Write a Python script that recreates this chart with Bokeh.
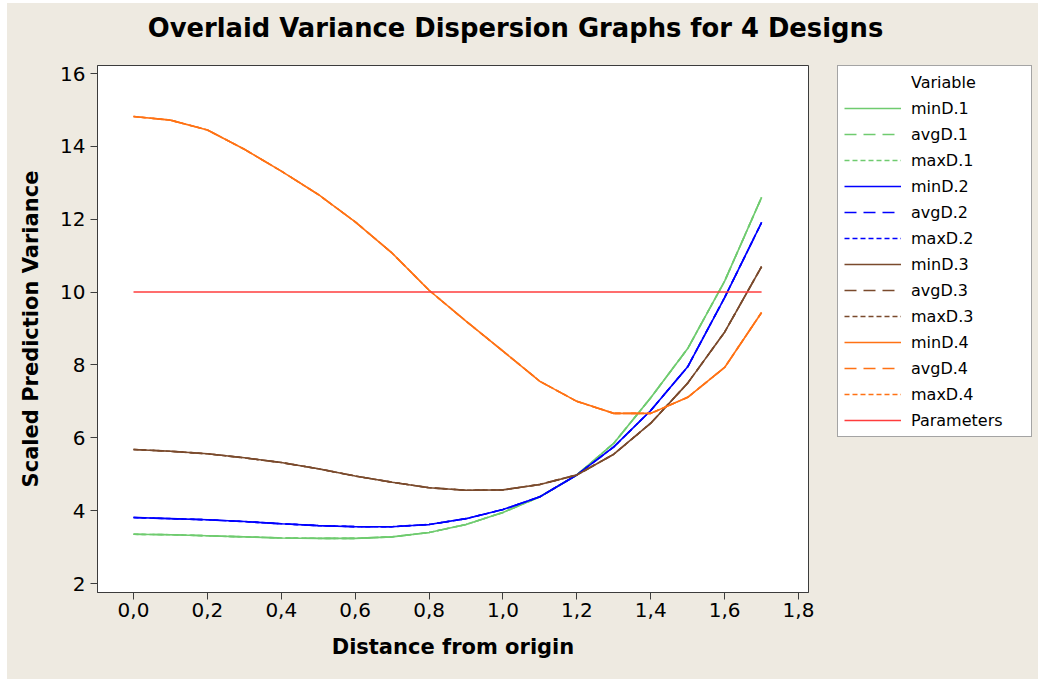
from bokeh.plotting import figure
from bokeh.models import (Legend, LegendItem, FixedTicker, CustomJSTickFormatter,
                          Range1d, Spacer, Label)
from bokeh.layouts import row, column
from bokeh.embed import file_html
from bokeh.resources import INLINE

# Distance from the design centre
distance = [0.0, 0.1, 0.2, 0.3, 0.4, 0.5, 0.6, 0.7, 0.8, 0.9,
            1.0, 1.1, 1.2, 1.3, 1.4, 1.5, 1.6, 1.7]

# Scaled prediction variance of each design (min / avg / max coincide)
design_1 = [3.35, 3.34, 3.31, 3.28, 3.25, 3.24, 3.24, 3.28, 3.40, 3.62,
            3.95, 4.38, 4.98, 5.85, 7.10, 8.45, 10.30, 12.60]
design_2 = [3.81, 3.78, 3.75, 3.70, 3.64, 3.59, 3.56, 3.56, 3.62, 3.78,
            4.03, 4.38, 4.98, 5.75, 6.75, 7.95, 9.85, 11.91]
design_3 = [5.68, 5.63, 5.56, 5.45, 5.32, 5.15, 4.95, 4.78, 4.63, 4.56,
            4.57, 4.72, 4.98, 5.55, 6.40, 7.50, 8.90, 10.70]
design_4 = [14.82, 14.72, 14.45, 13.92, 13.32, 12.68, 11.93, 11.07, 10.05, 9.20,
            8.38, 7.55, 7.00, 6.67, 6.67, 7.11, 7.93, 9.44]

# Reference level
parameter_x = [0.0, 1.7]
parameter_y = [10.0, 10.0]

series_names = ["minD", "avgD", "maxD"]
design_names = ["1", "2", "3", "4"]
design_colors = ["#6FCB6F", "#0000FF", "#7A4A2C", "#FF7214"]
parameter_color = "#FF3C3C"
dash_styles = ["solid", "12 7", "5 3"]

BG = "#EEEAE1"
FONT = "DejaVu Sans"
EDGE = "#3C3C3C"

# ---- title strip ------------------------------------------------------------
head = figure(width=1031, height=59, output_backend="svg", toolbar_location=None,
              x_axis_type=None, y_axis_type=None,
              x_range=Range1d(0, 1), y_range=Range1d(0, 1),
              min_border_left=0, min_border_right=0, min_border_top=0,
              min_border_bottom=0)
head.background_fill_color = BG
head.border_fill_color = BG
head.outline_line_color = None
head.xgrid.visible = False
head.ygrid.visible = False
head.add_layout(Label(x=508, y=35, x_units="screen", y_units="screen",
                      text="Overlaid Variance Dispersion Graphs for 4 Designs",
                      text_font=FONT, text_font_size="25.8px",
                      text_font_style="bold", text_color="black",
                      text_align="center", text_baseline="middle"))

# ---- main chart -------------------------------------------------------------
p = figure(width=830, height=617, output_backend="svg", toolbar_location=None,
           x_range=Range1d(-0.0975, 1.827), y_range=Range1d(1.753, 16.22),
           min_border_left=90, min_border_right=29, min_border_top=3,
           min_border_bottom=87)
p.background_fill_color = "white"
p.border_fill_color = BG
p.outline_line_color = EDGE
p.outline_line_width = 1
p.xgrid.visible = False
p.ygrid.visible = False

for ax in (p.xaxis[0], p.yaxis[0]):
    ax.axis_line_color = EDGE
    ax.major_tick_line_color = EDGE
    ax.major_tick_out = 7
    ax.major_tick_in = 0
    ax.minor_tick_line_color = None
    ax.major_label_text_font = FONT
    ax.major_label_text_font_size = "20px"
    ax.major_label_text_color = "black"
    ax.axis_label_text_font = FONT
    ax.axis_label_text_font_size = "21px"
    ax.axis_label_text_font_style = "bold"
    ax.axis_label_text_color = "black"

p.xaxis.ticker = FixedTicker(ticks=[0.0, 0.2, 0.4, 0.6, 0.8, 1.0, 1.2, 1.4, 1.6, 1.8])
p.xaxis.formatter = CustomJSTickFormatter(code="return tick.toFixed(1).replace('.', ',');")
p.xaxis.axis_label = "Distance from origin"
p.xaxis.major_label_standoff = 3
p.xaxis.axis_label_standoff = 15

p.yaxis.ticker = FixedTicker(ticks=[2, 4, 6, 8, 10, 12, 14, 16])
p.yaxis.axis_label = "Scaled Prediction Variance"
p.yaxis.major_label_standoff = 5
p.yaxis.axis_label_standoff = 14

designs = [design_1, design_2, design_3, design_4]
for values, color in zip(designs, design_colors):
    for dash in dash_styles:
        p.line(distance, values, line_color=color, line_width=1.6,
               line_dash=dash)
p.line(parameter_x, parameter_y, line_color=parameter_color, line_width=1.5)

# ---- legend panel -----------------------------------------------------------
lg = figure(width=201, height=617, output_backend="svg", toolbar_location=None,
            x_axis_type=None, y_axis_type=None,
            x_range=Range1d(5, 6), y_range=Range1d(5, 6),
            min_border_left=0, min_border_right=0, min_border_top=3,
            min_border_bottom=0)
lg.background_fill_color = BG
lg.border_fill_color = BG
lg.outline_line_color = None
lg.xgrid.visible = False
lg.ygrid.visible = False

# legend swatches live outside the visible range of this panel
sx, sy = [0, 1], [0, 0]
items = []
heading = lg.line(sx, sy, line_alpha=0)
items.append(LegendItem(label="Variable", renderers=[heading]))
for name, color in zip(design_names, design_colors):
    for sname, dash in zip(series_names, dash_styles):
        r = lg.line(sx, sy, line_color=color, line_width=1.6, line_dash=dash)
        items.append(LegendItem(label=f"{sname}.{name}", renderers=[r]))
r = lg.line(sx, sy, line_color=parameter_color, line_width=1.5)
items.append(LegendItem(label="Parameters", renderers=[r]))

legend = Legend(items=items, location="top_left")
legend.margin = 0
legend.padding = 6
legend.spacing = 6
legend.glyph_width = 57
legend.glyph_height = 20
legend.label_height = 20
legend.label_width = 114
legend.label_standoff = 10
legend.label_text_font = FONT
legend.label_text_font_size = "16px"
legend.label_text_color = "black"
legend.border_line_color = "#4A4A4A"
legend.border_line_width = 1
legend.background_fill_color = "white"
legend.background_fill_alpha = 1.0
lg.add_layout(legend, "center")

body = column(head, row(p, lg), styles={"background-color": BG})
layout = row(Spacer(width=7), column(Spacer(height=3), body))

html = file_html(layout, INLINE)
with open("out.html", "w") as f:
    f.write(html)
